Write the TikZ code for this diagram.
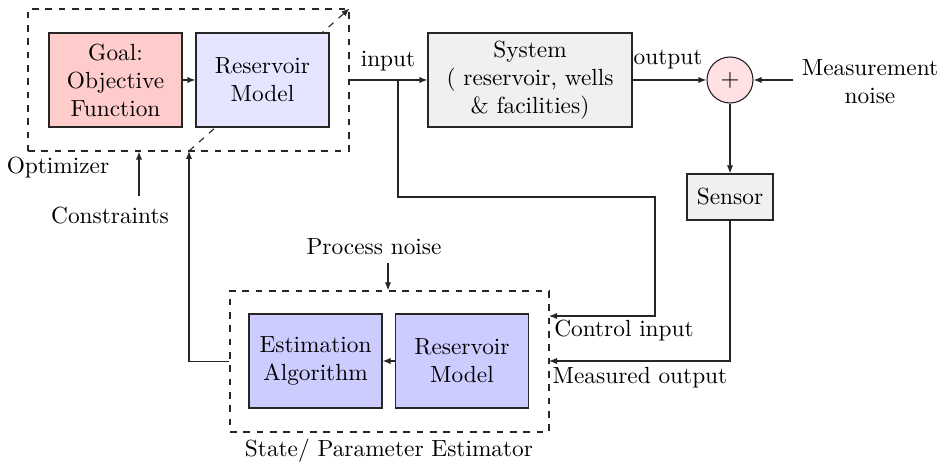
\documentclass[tikz,border=0pt]{standalone}
\usetikzlibrary{arrows.meta}
\definecolor{goalred}{HTML}{FFCCCC}
\definecolor{resblue}{HTML}{E5E5FF}
\definecolor{estblue}{HTML}{CCCCFF}
\definecolor{sysgray}{HTML}{F0F0F0}
\definecolor{sumpink}{HTML}{FFE0E3}
\definecolor{linegray}{HTML}{262626}
\tikzset{
  every node/.style={font=\fontsize{10.5}{12.6}\selectfont},
  blk/.style={draw=linegray, line width=0.5pt, align=center, inner sep=0pt, minimum width=59.85pt, minimum height=42.3pt},
  dbox/.style={draw=linegray, dashed, line width=0.5pt, inner sep=0pt},
  lbl/.style={inner sep=0pt, align=center},
  arr/.style={draw=linegray, line width=0.5pt, -{Latex[length=3.6pt,width=2.8pt]}},
}
\begin{document}
\begin{tikzpicture}[x=0.45pt, y=-0.45pt]
\useasboundingbox (0,0) rectangle (944,467);
% optimizer
\node[dbox, minimum width=144.45pt, minimum height=63.9pt] (opt) at (188.5,80) {};
\coordinate (fb) at (189,151);
\draw[arr, dashed] (fb) -- (opt.north east);
\node[blk, fill=goalred] (goal) at (115.5,80) {Goal:\\Objective\\Function};
\node[blk, fill=resblue] (resT) at (262.5,80) {Reservoir\\Model};
\draw[arr] (goal) -- (resT);
\node[lbl] (optl) at (58,168) {Optimizer};
\node[lbl] (cons) at (110,216) {Constraints};
\coordinate (ct) at (139,196);
\draw[arr] (ct) -- (ct |- opt.south);
% system
\node[blk, fill=sysgray, minimum width=91.8pt] (sys) at (530,80) {System\\( reservoir, wells\\\& facilities)};
\draw[arr] (opt.east) -- (sys.west);
\node[lbl] (inp) at (388,61) {input};
\node[circle, draw=linegray, line width=0.5pt, fill=sumpink, minimum size=20.7pt, inner sep=0pt] (sum) at (730,80) {$+$};
\draw[arr] (sys.east) -- (sum.west);
\node[lbl] (outl) at (668,60) {output};
\node[lbl] (mnl) at (870,82) {Measurement\\noise};
\coordinate (mn) at (793,80);
\draw[arr] (mn) -- (sum.east);
\node[blk, fill=sysgray, minimum width=38.7pt, minimum height=20.7pt] (sensor) at (730,197) {Sensor};
\draw[arr] (sum.south) -- (sensor.north);
% estimator
\node[dbox, minimum width=143.55pt, minimum height=63.45pt] (est) at (389.5,361.5) {};
\node[blk, fill=estblue] (ealg) at (315.5,361) {Estimation\\Algorithm};
\node[blk, fill=estblue] (resB) at (462,361) {Reservoir\\Model};
\draw[arr] (resB) -- (ealg);
\node[lbl] (pnl) at (374,247) {Process noise};
\coordinate (pn) at (388,263);
\draw[arr] (pn) -- (pn |- est.north);
\node[lbl] (estl) at (389,451) {State/ Parameter Estimator};
% control input
\coordinate (br) at (398,80);
\coordinate (c1) at (655,197);
\coordinate (ci) at (549,316);
\draw[arr] (br) |- (c1) |- (ci);
\node[lbl] (cil) at (624,331) {Control input};
% measured output
\coordinate (mo) at (549,361);
\draw[arr] (sensor.south) |- (mo);
\node[lbl] (mol) at (640,378) {Measured output};
% feedback
\draw[arr] (est.west) -| (fb);
\end{tikzpicture}
\end{document}
